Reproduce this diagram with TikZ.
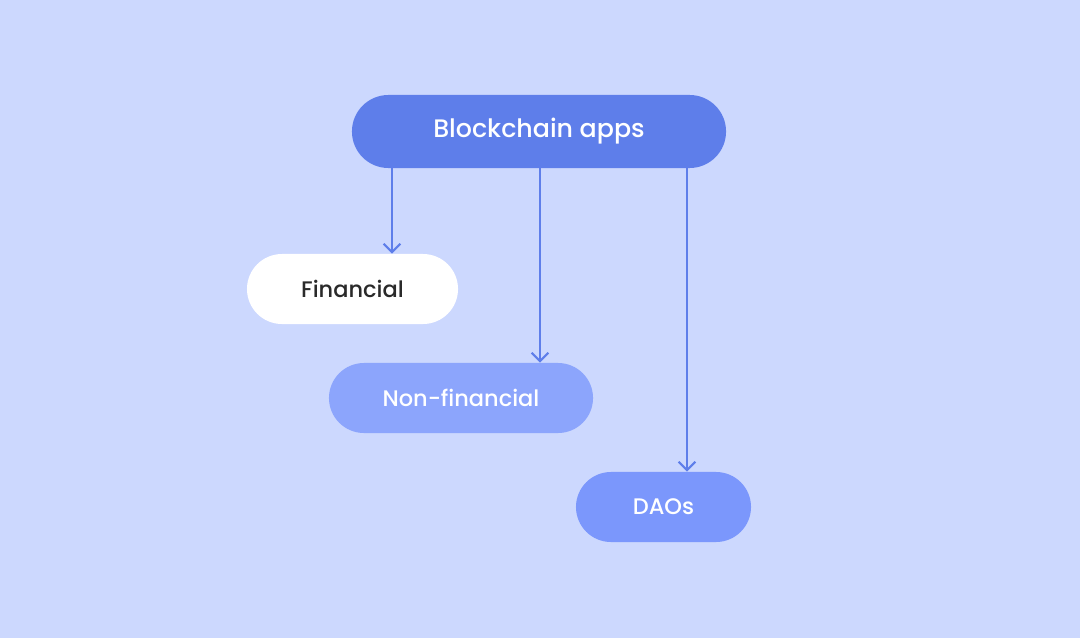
\documentclass[tikz,border=0pt]{standalone}
\usepackage{fontspec}
\setmainfont{Poppins}[UprightFont=* Medium]
\usetikzlibrary{arrows.meta}
\definecolor{bgblue}{HTML}{CCD8FE}
\definecolor{appsblue}{HTML}{5E7EEA}
\definecolor{nonfinblue}{HTML}{8CA5FC}
\definecolor{daoblue}{HTML}{7B97FC}
\definecolor{darktext}{HTML}{2A2A2A}
\begin{document}
\begin{tikzpicture}[x=0.025cm,y=-0.025cm,>={Straight Barb[length=6pt,width=12pt]},
	pill/.style={rectangle,rounded corners=0.875cm,minimum height=1.75cm,inner sep=0pt,font=\fontsize{16}{18}\selectfont},
	link/.style={->,draw=appsblue,line width=1.5pt}]
	\fill[bgblue](0,0) rectangle (1080,638);
	\node[pill,fill=appsblue,text=white,minimum width=9.35cm,minimum height=1.825cm,rounded corners=0.91cm,font=\fontsize{18}{20}\selectfont] (apps) at (539,131.5) {Blockchain apps};
	\node[pill,fill=white,text=darktext,minimum width=5.275cm] (fin) at (352.5,289) {Financial};
	\node[pill,fill=nonfinblue,text=white,minimum width=6.6cm] (nonfin) at (461,398) {Non-financial};
	\node[pill,fill=daoblue,text=white,minimum width=4.375cm] (dao) at (663.5,507) {DAOs};
	\draw[link](apps.south -| 392,0) -- (392,0 |- fin.north);
	\draw[link](apps.south -| 540,0) -- (540,0 |- nonfin.north);
	\draw[link](apps.south -| 687,0) -- (687,0 |- dao.north);
\end{tikzpicture}
\end{document}
